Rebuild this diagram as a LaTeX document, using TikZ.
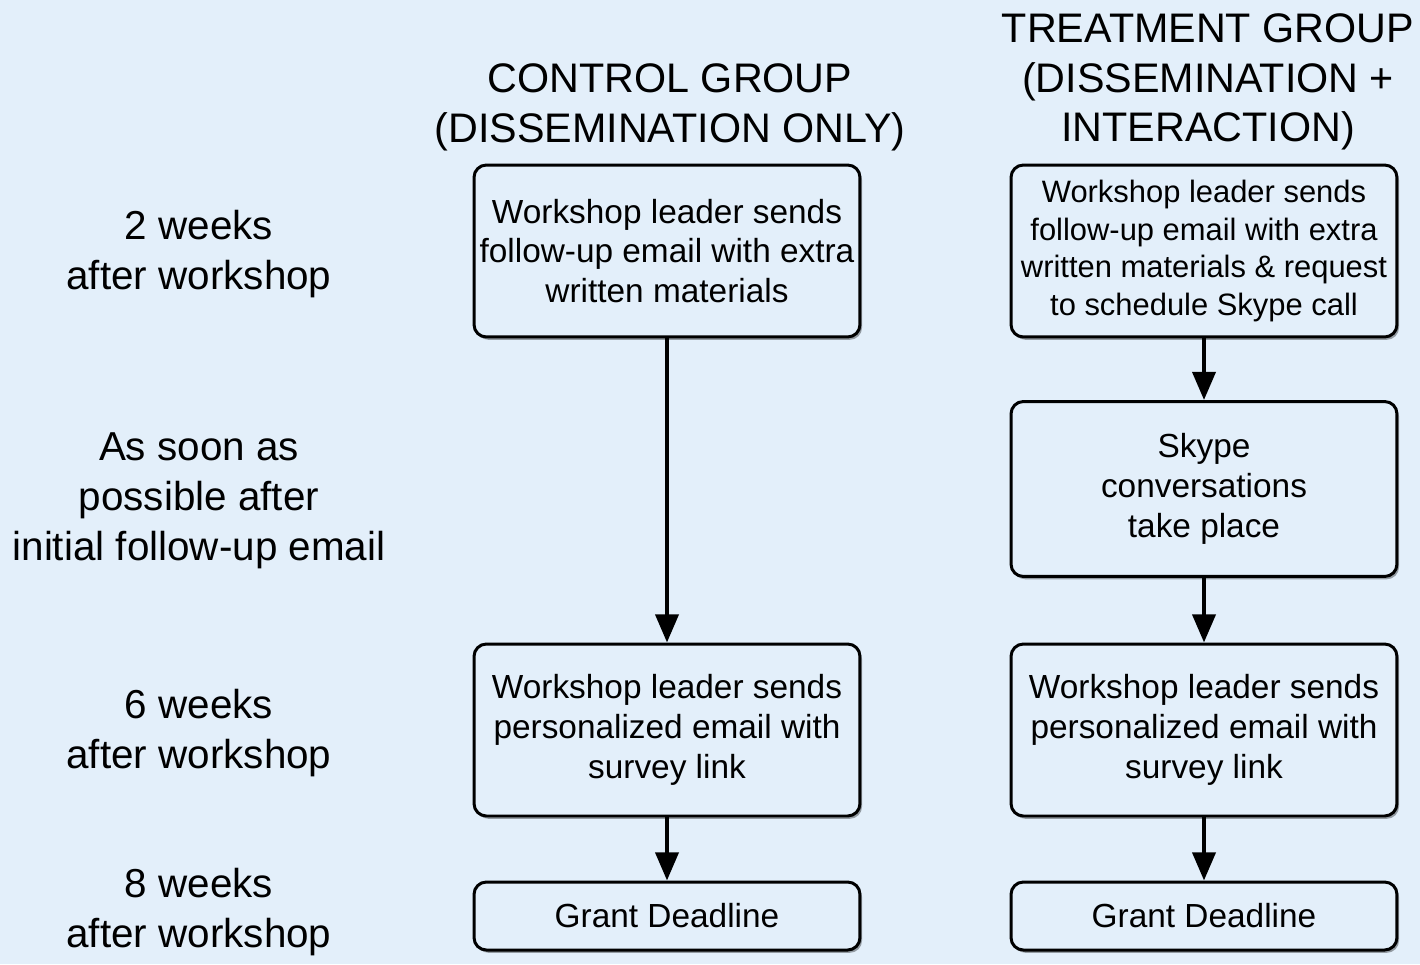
\documentclass[tikz,border=0pt]{standalone}
\usepackage{fontspec}
\setmainfont{Liberation Sans}
\usetikzlibrary{arrows.meta,shadows}
\definecolor{bgblue}{HTML}{E3EFFA}
\tikzset{
  stepbox/.style={draw=black, line width=1.7pt, rounded corners=7pt, fill=bgblue,
    drop shadow={shadow xshift=1.2pt, shadow yshift=-1.6pt, opacity=0.35, fill=black},
    minimum width=7.72cm, inner sep=2pt, align=center,
    font=\fontsize{19}{22.7}\selectfont},
  flow/.style={line width=2.4pt, -{Triangle[width=13pt, length=16pt]}},
  timelabel/.style={align=center, font=\fontsize{23}{28.3}\selectfont},
  grouphead/.style={align=center, font=\fontsize{23.5}{28.3}\selectfont}
}
\begin{document}
\begin{tikzpicture}[x=0.02cm, y=-0.02cm]
  % background
  \fill[bgblue] (0,0) rectangle (1420,964);
  % column heads
  \node[grouphead] (hctrl) at (670,107) {CONTROL GROUP\\(DISSEMINATION ONLY)};
  \node[grouphead] (htreat) at (1208,82) {TREATMENT GROUP\\(DISSEMINATION +\\INTERACTION)};
  % time labels
  \node[timelabel] (t1) at (199,254) {2 weeks\\after workshop};
  \node[timelabel] (t2) at (199,501) {As soon as\\possible after\\initial follow-up email};
  \node[timelabel] (t3) at (199,733) {6 weeks\\after workshop};
  \node[timelabel] (t4) at (199,912) {8 weeks\\after workshop};
  % control group
  \node[stepbox, minimum height=3.44cm] (c1) at (667,251)
    {Workshop leader sends\\follow-up email with extra\\written materials};
  \node[stepbox, minimum height=3.44cm] (c3) at (667,730)
    {Workshop leader sends\\personalized email with\\survey link};
  \node[stepbox, minimum height=1.36cm] (c4) at (667,916) {Grant Deadline};
  % treatment group
  \node[stepbox, minimum height=3.44cm, font=\fontsize{17.6}{21.3}\selectfont] (tr1) at (1204,251)
    {Workshop leader sends\\follow-up email with extra\\written materials \& request\\to schedule Skype call};
  \node[stepbox, minimum height=3.5cm] (tr2) at (1204,489)
    {Skype\\conversations\\take place};
  \node[stepbox, minimum height=3.44cm] (tr3) at (1204,730)
    {Workshop leader sends\\personalized email with\\survey link};
  \node[stepbox, minimum height=1.36cm] (tr4) at (1204,916) {Grant Deadline};
  % connectors
  \draw[flow] (c1) -- (c3);
  \draw[flow] (c3) -- (c4);
  \draw[flow] (tr1) -- (tr2);
  \draw[flow] (tr2) -- (tr3);
  \draw[flow] (tr3) -- (tr4);
\end{tikzpicture}
\end{document}
